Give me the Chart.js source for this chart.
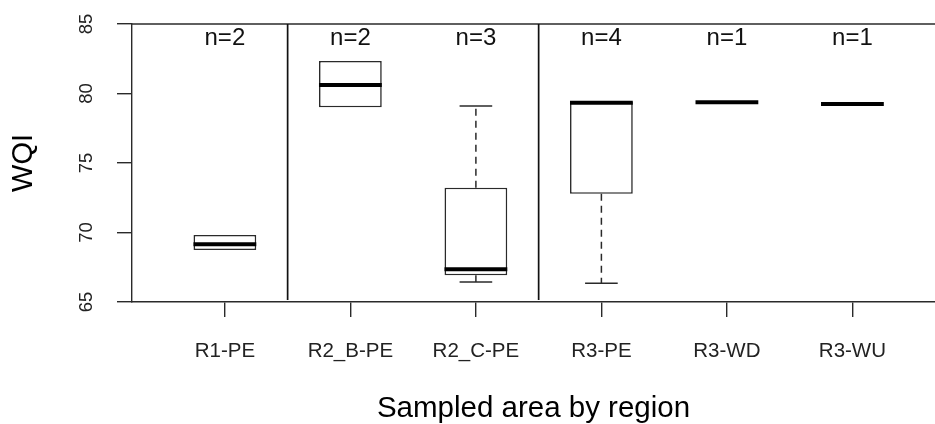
<!DOCTYPE html>
<html>
<head>
<meta charset="utf-8">
<script src="https://cdn.jsdelivr.net/npm/chart.js@4.4.1/dist/chart.umd.min.js"></script>
<style>
  html, body { margin: 0; padding: 0; background: #fff; overflow: hidden; }
</style>
</head>
<body>
<canvas id="wqiChart" width="935" height="424"></canvas>
<script>
// WQI per sampled area, boxplot summary
const categories = ['R1-PE', 'R2_B-PE', 'R2_C-PE', 'R3-PE', 'R3-WD', 'R3-WU'];
const counts = [2, 2, 3, 4, 1, 1];
const mins = [68.74, 79.01, 66.44, 66.34, 79.37, 79.24];
const q1s = [68.74, 79.01, 66.92, 72.78, 79.37, 79.24];
const medians = [69.15, 80.61, 67.35, 79.33, 79.37, 79.24];
const q3s = [69.82, 82.34, 73.22, 79.40, 79.37, 79.24];
const maxs = [69.82, 82.34, 79.10, 79.40, 79.37, 79.24];
const yTicks = [65, 70, 75, 80, 85];
const regionBreaks = [1.5, 3.5];

const lineColor = '#2a2a2a';
const fontFamily = '"Liberation Sans", Arial, sans-serif';

const boxData = categories
  .map((c, i) => (q1s[i] < q3s[i] ? { x: i + 1, y: [q1s[i], q3s[i]] } : null))
  .filter(Boolean);
const medianData = categories.map((c, i) => ({ x: i + 1, y: medians[i] }));

// whiskers, caps, region separators, frame and n= labels
const boxExtras = {
  id: 'boxExtras',
  afterDatasetsDraw(chart) {
    const { ctx, chartArea, scales: { x, y } } = chart;
    ctx.save();
    ctx.strokeStyle = lineColor;
    ctx.lineWidth = 1.5;

    categories.forEach((c, i) => {
      const cx = x.getPixelForValue(i + 1);
      const capL = x.getPixelForValue(i + 1 - 0.13);
      const capR = x.getPixelForValue(i + 1 + 0.13);
      [[q3s[i], maxs[i]], [q1s[i], mins[i]]].forEach(([from, to]) => {
        if (from === to) return;
        ctx.setLineDash([7, 5]);
        ctx.beginPath();
        ctx.moveTo(cx, y.getPixelForValue(from));
        ctx.lineTo(cx, y.getPixelForValue(to));
        ctx.stroke();
        ctx.setLineDash([]);
        ctx.beginPath();
        ctx.moveTo(capL, y.getPixelForValue(to));
        ctx.lineTo(capR, y.getPixelForValue(to));
        ctx.stroke();
      });
    });

    // frame top
    ctx.beginPath();
    ctx.moveTo(chartArea.left, chartArea.top);
    ctx.lineTo(chartArea.right, chartArea.top);
    ctx.stroke();

    // region separators
    ctx.strokeStyle = '#111';
    ctx.lineWidth = 1.7;
    regionBreaks.forEach(b => {
      const bx = x.getPixelForValue(b);
      ctx.beginPath();
      ctx.moveTo(bx, chartArea.top);
      ctx.lineTo(bx, chartArea.bottom - 2);
      ctx.stroke();
    });

    // sample sizes
    ctx.fillStyle = '#111';
    ctx.font = '24px ' + fontFamily;
    ctx.textAlign = 'center';
    ctx.textBaseline = 'middle';
    counts.forEach((n, i) => {
      ctx.fillText('n=' + n, x.getPixelForValue(i + 1), y.getPixelForValue(84));
    });
    ctx.restore();
  }
};

const ctx = document.getElementById('wqiChart').getContext('2d');

const chart = new Chart(ctx, {
  data: {
    datasets: [
      {
        type: 'scatter',
        data: medianData,
        order: 0,
        pointStyle: 'line',
        pointRadius: 31.4,
        pointHoverRadius: 31.4,
        pointBorderWidth: 4,
        pointBorderColor: '#000',
        pointBackgroundColor: '#000'
      },
      {
        type: 'bar',
        data: boxData,
        order: 1,
        backgroundColor: '#fff',
        borderColor: lineColor,
        borderWidth: 1.6,
        borderSkipped: false,
        barPercentage: 0.5,
        categoryPercentage: 1
      }
    ]
  },
  options: {
    responsive: false,
    animation: false,
    events: [],
    layout: { autoPadding: false, padding: { top: 24, left: 0, right: 0, bottom: 0 } },
    plugins: {
      legend: { display: false },
      tooltip: { enabled: false }
    },
    scales: {
      x: {
        type: 'linear',
        position: 'bottom',
        offset: false,
        min: 0.26,
        max: 6.658,
        afterBuildTicks: (scale) => {
          scale.ticks = categories.map((c, i) => ({ value: i + 1 }));
        },
        afterFit: (scale) => {
          scale.height = 122;
          scale.paddingLeft = 0;
          scale.paddingRight = 0;
        },
        grid: {
          offset: false,
          drawOnChartArea: false,
          drawTicks: true,
          tickLength: 15,
          color: lineColor,
          lineWidth: 1.4
        },
        border: { display: true, color: lineColor, width: 1.4 },
        ticks: {
          autoSkip: false,
          maxRotation: 0,
          padding: 22,
          color: '#222',
          font: { family: fontFamily, size: 20.5 },
          callback: (v) => categories[v - 1] ?? ''
        },
        title: {
          display: true,
          text: 'Sampled area by region',
          color: '#000',
          font: { family: fontFamily, size: 29.5, lineHeight: 1.0 },
          padding: { top: 0, bottom: 0 }
        }
      },
      y: {
        type: 'linear',
        position: 'left',
        min: 65,
        max: 85,
        afterBuildTicks: (scale) => {
          scale.ticks = yTicks.map(v => ({ value: v }));
        },
        afterFit: (scale) => {
          scale.width = 132;
          scale.paddingTop = 0;
          scale.paddingBottom = 0;
        },
        grid: {
          drawOnChartArea: false,
          drawTicks: true,
          tickLength: 15,
          color: lineColor,
          lineWidth: 1.4
        },
        border: { display: true, color: lineColor, width: 1.4 },
        ticks: {
          minRotation: 90,
          maxRotation: 90,
          crossAlign: 'center',
          padding: 20,
          color: '#222',
          font: { family: fontFamily, size: 18.5 }
        },
        title: {
          display: true,
          text: 'WQI',
          color: '#000',
          font: { family: fontFamily, size: 29, lineHeight: 1.1 },
          padding: { top: 8, bottom: 0 }
        }
      }
    }
  },
  plugins: [boxExtras]
});
</script>
</body>
</html>
